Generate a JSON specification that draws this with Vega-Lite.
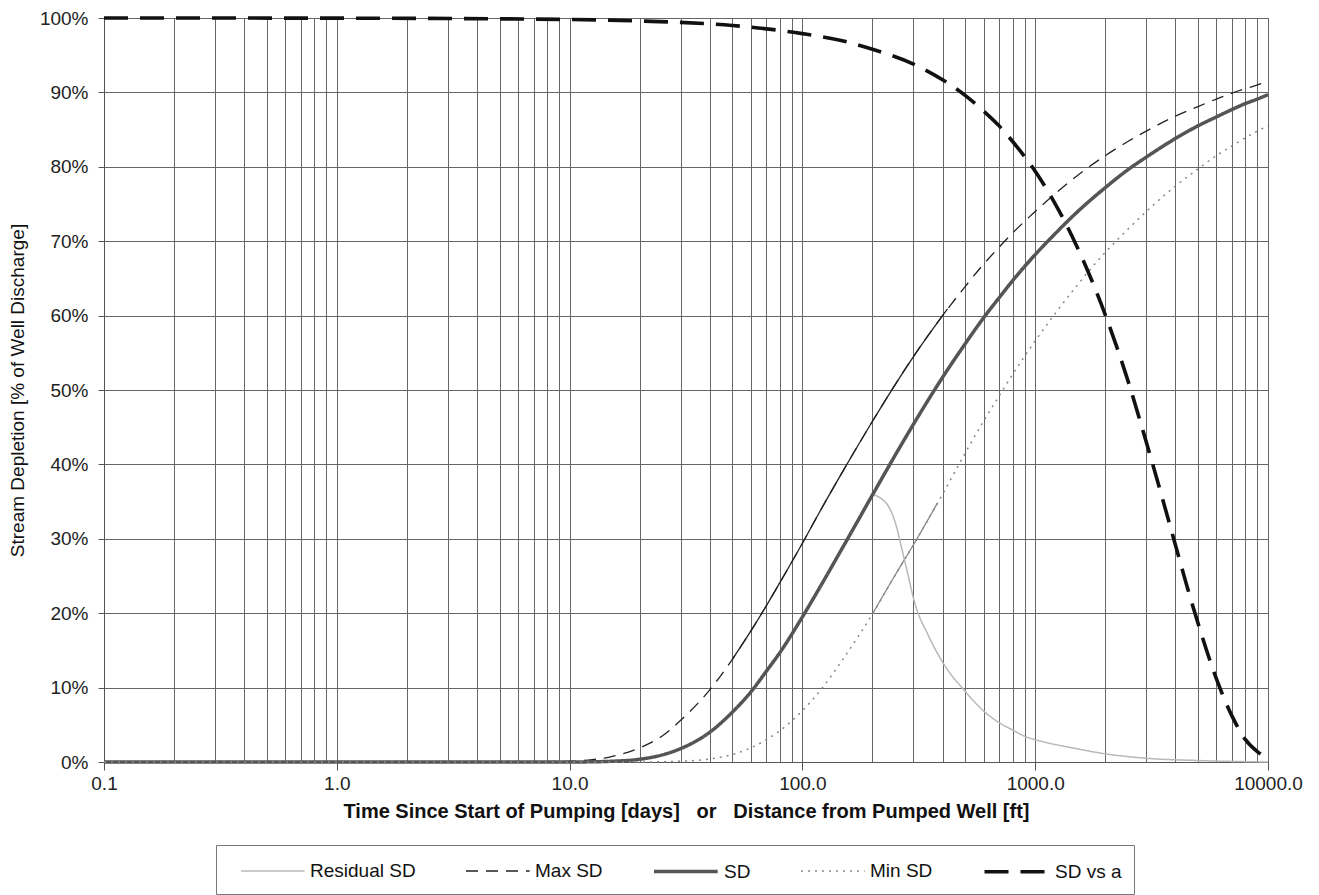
{
  "$schema": "https://vega.github.io/schema/vega-lite/v6.json",
  "width": 1164,
  "height": 744,
  "autosize": {"type": "none"},
  "padding": {"left": 104, "top": 18, "right": 51, "bottom": 133},
  "background": "white",
  "config": {
    "font": "Liberation Sans",
    "view": {"stroke": "#555", "strokeWidth": 1},
    "axis": {"labelFont": "Liberation Sans", "titleFont": "Liberation Sans", "labelColor": "#222", "titleColor": "#111", "gridColor": "#666", "gridWidth": 1, "domainColor": "#555", "tickColor": "#555"},
    "legend": {"symbolType": "M0,0H5.2", "symbolSize": 600, "labelFontSize": 19, "labelFont": "Liberation Sans", "labelColor": "#111", "labelOffset": 56, "columnPadding": 37, "padding": 12, "strokeColor": "#777", "fillColor": "white"}
  },
  "datasets": {
    "main": [
      {"s": "Residual SD", "x": 200, "y": 36.0},
      {"s": "Residual SD", "x": 220, "y": 35.3},
      {"s": "Residual SD", "x": 235, "y": 34.3},
      {"s": "Residual SD", "x": 250, "y": 32.3},
      {"s": "Residual SD", "x": 269, "y": 28.3},
      {"s": "Residual SD", "x": 285, "y": 25.0},
      {"s": "Residual SD", "x": 300, "y": 22.0},
      {"s": "Residual SD", "x": 350, "y": 16.8},
      {"s": "Residual SD", "x": 412, "y": 12.8},
      {"s": "Residual SD", "x": 500, "y": 9.5},
      {"s": "Residual SD", "x": 613, "y": 6.6},
      {"s": "Residual SD", "x": 700, "y": 5.3},
      {"s": "Residual SD", "x": 800, "y": 4.3},
      {"s": "Residual SD", "x": 910, "y": 3.4},
      {"s": "Residual SD", "x": 1000, "y": 3.0},
      {"s": "Residual SD", "x": 1500, "y": 1.8},
      {"s": "Residual SD", "x": 2000, "y": 1.1},
      {"s": "Residual SD", "x": 3000, "y": 0.5},
      {"s": "Residual SD", "x": 5000, "y": 0.2},
      {"s": "Residual SD", "x": 10000, "y": 0.0},

      {"s": "Max SD", "x": 0.1, "y": 0},
      {"s": "Max SD", "x": 1, "y": 0},
      {"s": "Max SD", "x": 5, "y": 0},
      {"s": "Max SD", "x": 10, "y": 0.1},
      {"s": "Max SD", "x": 12, "y": 0.25},
      {"s": "Max SD", "x": 15, "y": 0.7},
      {"s": "Max SD", "x": 20, "y": 1.9},
      {"s": "Max SD", "x": 25, "y": 3.5},
      {"s": "Max SD", "x": 30, "y": 5.6},
      {"s": "Max SD", "x": 40, "y": 9.7},
      {"s": "Max SD", "x": 50, "y": 13.8},
      {"s": "Max SD", "x": 60, "y": 17.6},
      {"s": "Max SD", "x": 70, "y": 21.0},
      {"s": "Max SD", "x": 80, "y": 24.1},
      {"s": "Max SD", "x": 100, "y": 29.4},
      {"s": "Max SD", "x": 120, "y": 33.9},
      {"s": "Max SD", "x": 150, "y": 39.2},
      {"s": "Max SD", "x": 200, "y": 45.8},
      {"s": "Max SD", "x": 250, "y": 50.7},
      {"s": "Max SD", "x": 300, "y": 54.5},
      {"s": "Max SD", "x": 400, "y": 60.0},
      {"s": "Max SD", "x": 500, "y": 63.9},
      {"s": "Max SD", "x": 600, "y": 66.9},
      {"s": "Max SD", "x": 700, "y": 69.2},
      {"s": "Max SD", "x": 800, "y": 71.1},
      {"s": "Max SD", "x": 1000, "y": 74.0},
      {"s": "Max SD", "x": 1200, "y": 76.2},
      {"s": "Max SD", "x": 1500, "y": 78.7},
      {"s": "Max SD", "x": 2000, "y": 81.5},
      {"s": "Max SD", "x": 2500, "y": 83.4},
      {"s": "Max SD", "x": 3000, "y": 84.8},
      {"s": "Max SD", "x": 4000, "y": 86.8},
      {"s": "Max SD", "x": 5000, "y": 88.1},
      {"s": "Max SD", "x": 6000, "y": 89.1},
      {"s": "Max SD", "x": 7000, "y": 89.9},
      {"s": "Max SD", "x": 8000, "y": 90.5},
      {"s": "Max SD", "x": 9000, "y": 91.0},
      {"s": "Max SD", "x": 10000, "y": 91.5},

      {"s": "SD", "x": 0.1, "y": 0},
      {"s": "SD", "x": 1, "y": 0},
      {"s": "SD", "x": 10, "y": 0},
      {"s": "SD", "x": 12, "y": 0.02},
      {"s": "SD", "x": 15, "y": 0.09},
      {"s": "SD", "x": 20, "y": 0.37},
      {"s": "SD", "x": 25, "y": 0.95},
      {"s": "SD", "x": 30, "y": 1.8},
      {"s": "SD", "x": 40, "y": 4.0},
      {"s": "SD", "x": 50, "y": 6.7},
      {"s": "SD", "x": 60, "y": 9.4},
      {"s": "SD", "x": 70, "y": 12.2},
      {"s": "SD", "x": 80, "y": 14.7},
      {"s": "SD", "x": 100, "y": 19.5},
      {"s": "SD", "x": 120, "y": 23.7},
      {"s": "SD", "x": 150, "y": 29.0},
      {"s": "SD", "x": 200, "y": 35.9},
      {"s": "SD", "x": 250, "y": 41.2},
      {"s": "SD", "x": 300, "y": 45.4},
      {"s": "SD", "x": 400, "y": 51.7},
      {"s": "SD", "x": 500, "y": 56.2},
      {"s": "SD", "x": 600, "y": 59.7},
      {"s": "SD", "x": 700, "y": 62.4},
      {"s": "SD", "x": 800, "y": 64.7},
      {"s": "SD", "x": 1000, "y": 68.2},
      {"s": "SD", "x": 1200, "y": 70.8},
      {"s": "SD", "x": 1500, "y": 73.8},
      {"s": "SD", "x": 2000, "y": 77.2},
      {"s": "SD", "x": 2500, "y": 79.6},
      {"s": "SD", "x": 3000, "y": 81.3},
      {"s": "SD", "x": 4000, "y": 83.8},
      {"s": "SD", "x": 5000, "y": 85.5},
      {"s": "SD", "x": 6000, "y": 86.7},
      {"s": "SD", "x": 7000, "y": 87.7},
      {"s": "SD", "x": 8000, "y": 88.5},
      {"s": "SD", "x": 9000, "y": 89.1},
      {"s": "SD", "x": 10000, "y": 89.7},

      {"s": "Min SD", "x": 0.1, "y": 0},
      {"s": "Min SD", "x": 1, "y": 0},
      {"s": "Min SD", "x": 10, "y": 0},
      {"s": "Min SD", "x": 20, "y": 0},
      {"s": "Min SD", "x": 30, "y": 0.1},
      {"s": "Min SD", "x": 40, "y": 0.4},
      {"s": "Min SD", "x": 50, "y": 1.0},
      {"s": "Min SD", "x": 60, "y": 1.9},
      {"s": "Min SD", "x": 70, "y": 3.0},
      {"s": "Min SD", "x": 80, "y": 4.2},
      {"s": "Min SD", "x": 100, "y": 6.9},
      {"s": "Min SD", "x": 120, "y": 9.7},
      {"s": "Min SD", "x": 150, "y": 13.9},
      {"s": "Min SD", "x": 200, "y": 19.9},
      {"s": "Min SD", "x": 250, "y": 25.1},
      {"s": "Min SD", "x": 300, "y": 29.2},
      {"s": "Min SD", "x": 400, "y": 36.0},
      {"s": "Min SD", "x": 500, "y": 41.5},
      {"s": "Min SD", "x": 600, "y": 45.8},
      {"s": "Min SD", "x": 700, "y": 49.2},
      {"s": "Min SD", "x": 800, "y": 52.1},
      {"s": "Min SD", "x": 1000, "y": 56.6},
      {"s": "Min SD", "x": 1200, "y": 60.0},
      {"s": "Min SD", "x": 1500, "y": 63.9},
      {"s": "Min SD", "x": 2000, "y": 68.5},
      {"s": "Min SD", "x": 2500, "y": 71.6},
      {"s": "Min SD", "x": 3000, "y": 74.0},
      {"s": "Min SD", "x": 4000, "y": 77.4},
      {"s": "Min SD", "x": 5000, "y": 79.7},
      {"s": "Min SD", "x": 6000, "y": 81.5},
      {"s": "Min SD", "x": 7000, "y": 82.8},
      {"s": "Min SD", "x": 8000, "y": 83.9},
      {"s": "Min SD", "x": 9000, "y": 84.8},
      {"s": "Min SD", "x": 10000, "y": 85.5},

      {"s": "SD vs a", "x": 0.1, "y": 100},
      {"s": "SD vs a", "x": 1, "y": 99.98},
      {"s": "SD vs a", "x": 10, "y": 99.8},
      {"s": "SD vs a", "x": 20, "y": 99.6},
      {"s": "SD vs a", "x": 50, "y": 99.0},
      {"s": "SD vs a", "x": 100, "y": 97.9},
      {"s": "SD vs a", "x": 150, "y": 96.9},
      {"s": "SD vs a", "x": 200, "y": 95.8},
      {"s": "SD vs a", "x": 300, "y": 93.8},
      {"s": "SD vs a", "x": 400, "y": 91.7},
      {"s": "SD vs a", "x": 500, "y": 89.6},
      {"s": "SD vs a", "x": 600, "y": 87.5},
      {"s": "SD vs a", "x": 700, "y": 85.5},
      {"s": "SD vs a", "x": 800, "y": 83.4},
      {"s": "SD vs a", "x": 1000, "y": 79.4},
      {"s": "SD vs a", "x": 1200, "y": 75.4},
      {"s": "SD vs a", "x": 1500, "y": 69.5},
      {"s": "SD vs a", "x": 2000, "y": 60.1},
      {"s": "SD vs a", "x": 2500, "y": 51.3},
      {"s": "SD vs a", "x": 3000, "y": 43.0},
      {"s": "SD vs a", "x": 3500, "y": 35.7},
      {"s": "SD vs a", "x": 4000, "y": 29.2},
      {"s": "SD vs a", "x": 4500, "y": 23.5},
      {"s": "SD vs a", "x": 5000, "y": 18.7},
      {"s": "SD vs a", "x": 6000, "y": 11.2},
      {"s": "SD vs a", "x": 7000, "y": 6.2},
      {"s": "SD vs a", "x": 8000, "y": 3.0},
      {"s": "SD vs a", "x": 9000, "y": 1.4},
      {"s": "SD vs a", "x": 10000, "y": 0.5}
    ],
    "ovmax": [
      {"x": 50, "y": 13.8},
      {"x": 60, "y": 17.6},
      {"x": 70, "y": 21.0},
      {"x": 80, "y": 24.1},
      {"x": 100, "y": 29.4},
      {"x": 120, "y": 33.9},
      {"x": 150, "y": 39.2},
      {"x": 200, "y": 45.8},
      {"x": 250, "y": 50.7},
      {"x": 300, "y": 54.5},
      {"x": 400, "y": 60.0},
      {"x": 420, "y": 60.9}
    ],
    "ovmin": [
      {"x": 200, "y": 19.9},
      {"x": 250, "y": 25.1},
      {"x": 300, "y": 29.2},
      {"x": 380, "y": 34.8}
    ]
  },
  "layer": [
    {
      "data": {"name": "ovmax"},
      "mark": {"type": "line", "interpolate": "monotone", "strokeWidth": 1.3, "color": "#222"},
      "encoding": {
        "x": {"field": "x", "type": "quantitative"},
        "y": {"field": "y", "type": "quantitative"}
      }
    },
    {
      "data": {"name": "ovmin"},
      "mark": {"type": "line", "interpolate": "monotone", "strokeWidth": 1.3, "color": "#888"},
      "encoding": {
        "x": {"field": "x", "type": "quantitative"},
        "y": {"field": "y", "type": "quantitative"}
      }
    },
    {
      "data": {"name": "main"},
      "mark": {"type": "line", "interpolate": "monotone", "strokeCap": "butt"},
      "encoding": {
        "x": {
          "field": "x", "type": "quantitative",
          "scale": {"type": "log", "domain": [0.1, 10000], "nice": false},
          "axis": {
            "title": "Time Since Start of Pumping [days]\u00a0\u00a0 or \u00a0\u00a0Distance from Pumped Well [ft]",
            "titleFontSize": 20, "titleFontWeight": "bold", "titlePadding": 8,
            "labelFontSize": 19, "labelPadding": 4, "tickSize": 8,
            "values": [0.1,0.2,0.3,0.4,0.5,0.6,0.7,0.8,0.9,1,2,3,4,5,6,7,8,9,10,20,30,40,50,60,70,80,90,100,200,300,400,500,600,700,800,900,1000,2000,3000,4000,5000,6000,7000,8000,9000,10000],
            "labelExpr": "indexof([0.1,1,10,100,1000,10000], datum.value) >= 0 ? format(datum.value, '.1f') : ''",
            "labelOverlap": false, "labelFlush": false,
            "grid": true,
            "tickOpacity": {"condition": {"test": "indexof([0.1,1,10,100,1000,10000], datum.value) >= 0", "value": 1}, "value": 0}
          }
        },
        "y": {
          "field": "y", "type": "quantitative",
          "scale": {"domain": [0, 100], "nice": false},
          "axis": {
            "title": "Stream Depletion [% of Well Discharge]",
            "titleFontSize": 19, "titleFontWeight": "normal", "titlePadding": 12,
            "labelFontSize": 19, "labelPadding": 10, "tickSize": 6,
            "values": [0,10,20,30,40,50,60,70,80,90,100],
            "labelExpr": "datum.value + '%'",
            "grid": true
          }
        },
        "color": {
          "field": "s", "type": "nominal",
          "scale": {"type": "ordinal", "domain": ["Residual SD", "Max SD", "SD", "Min SD", "SD vs a"], "range": ["#b8b8b8", "#222222", "#555555", "#888888", "#111111"]},
          "legend": {"orient": "none", "legendX": 112, "legendY": 827, "direction": "horizontal", "title": null}
        },
        "strokeDash": {
          "field": "s", "type": "nominal",
          "scale": {"type": "ordinal", "domain": ["Residual SD", "Max SD", "SD", "Min SD", "SD vs a"], "range": [[1, 0], [12, 8], [1, 0], [2, 5], [24, 12]]},
          "legend": {"orient": "none", "legendX": 112, "legendY": 827, "direction": "horizontal", "title": null}
        },
        "strokeWidth": {
          "field": "s", "type": "nominal",
          "scale": {"type": "ordinal", "domain": ["Residual SD", "Max SD", "SD", "Min SD", "SD vs a"], "range": [1.5, 1.3, 3.5, 1.5, 3.6]},
          "legend": {"orient": "none", "legendX": 112, "legendY": 827, "direction": "horizontal", "title": null}
        }
      }
    }
  ]
}
